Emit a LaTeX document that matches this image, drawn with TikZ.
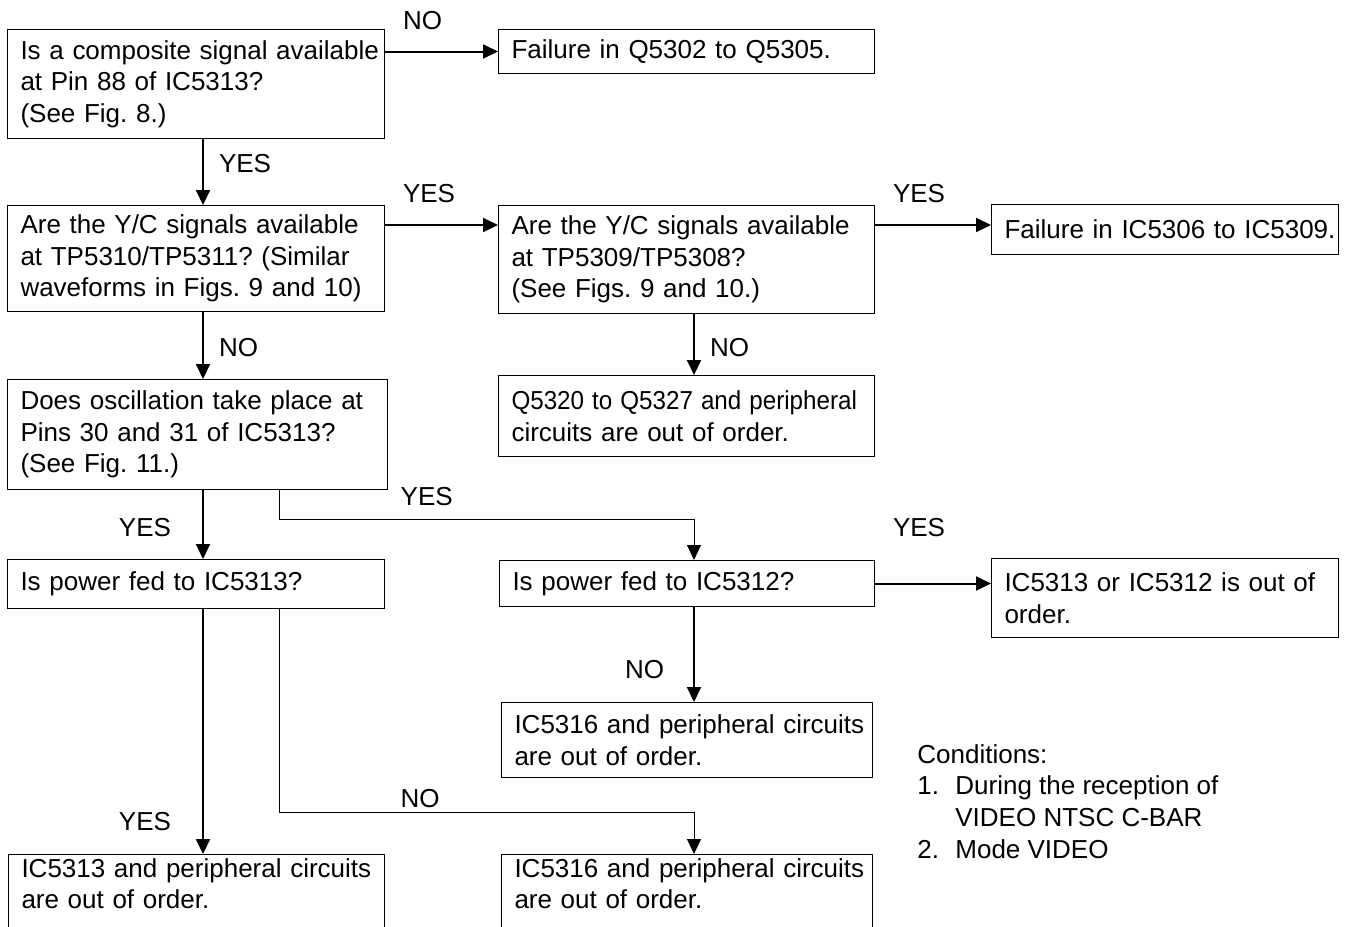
\documentclass[tikz,border=0pt]{standalone}
\usepackage{fontspec}
\setmainfont{Liberation Sans}
\usepackage{graphicx}
\usetikzlibrary{arrows.meta}
\frenchspacing
\tikzset{
  box/.style={draw,line width=0.5pt,anchor=north west,align=left,inner xsep=6.5pt,inner ysep=0pt,
    execute at begin node={\rightskip=-40pt plus 1fil}},
  lbl/.style={inner sep=0pt},
  hl/.style={lbl,pos=0,anchor=south west,xshift=8.5pt,yshift=10.5pt},
  vl/.style={lbl,anchor=west,xshift=7.5pt},
  vr/.style={lbl,anchor=east,xshift=-15.5pt},
  arr/.style={->,line width=1pt},
  thinarr/.style={->,line width=0.5pt}
}

\begin{document}
\begin{tikzpicture}[x=0.5pt,y=-0.5pt,>={Triangle[length=7.5pt,width=7pt]},font=\fontsize{13pt}{15.8pt}\selectfont]
    \useasboundingbox (0,0) rectangle (1351,927);

    % first column
    \node[box,text width=175.5pt,minimum height=54.5pt] (comp) at (7,29) {Is a composite signal available\\at Pin 88 of IC5313?\\(See Fig. 8.)};
    \node[box,text width=175.5pt,minimum height=53pt] (yc1) at (7,205) {Are the Y/C signals available\\at TP5310/TP5311? (Similar\\waveforms in Figs. 9 and 10)};
    \node[box,text width=177pt,minimum height=55pt] (osc) at (7,379) {Does oscillation take place at\\Pins 30 and 31 of IC5313?\\(See Fig. 11.)};
    \node[box,text width=175.5pt,minimum height=24.5pt] (pw13) at (7,559) {Is power fed to IC5313?};
    \node[box,text width=175pt,inner ysep=2pt,text depth=45pt] (ic13) at (8,854) {IC5313 and peripheral circuits\\are out of order.};

    % second column
    \node[box,text width=175pt,minimum height=22pt] (failq) at (498,29) {Failure in Q5302 to Q5305.};
    \node[box,text width=175pt,minimum height=54pt] (yc2) at (498,205) {Are the Y/C signals available\\at TP5309/TP5308?\\(See Figs. 9 and 10.)};
    \node[box,text width=175pt,minimum height=40.5pt] (qout) at (498,375) {\scalebox{0.93}[1]{Q5320 to Q5327 and peripheral}\\circuits are out of order.};
    \node[box,text width=174.5pt,minimum height=23pt] (pw12) at (499,560) {Is power fed to IC5312?};
    \node[box,text width=172.5pt,minimum height=37.5pt] (ic16a) at (501,702) {IC5316 and peripheral circuits\\are out of order.};
    \node[box,text width=172.5pt,inner ysep=2pt,text depth=45pt] (ic16b) at (501,854) {IC5316 and peripheral circuits\\are out of order.};

    % third column
    \node[box,text width=160.5pt,minimum height=25pt] (failic) at (991,204) {Failure in IC5306 to IC5309.};
    \node[box,text width=160.5pt,minimum height=39.5pt] (icout) at (991,558) {IC5313 or IC5312 is out of\\order.};

    \node[lbl,anchor=north west,align=left] (cond) at (917,744) {Conditions:\\\makebox[19pt][l]{1.}During the reception of\\\hspace*{19pt}VIDEO NTSC C-BAR\\\makebox[19pt][l]{2.}Mode VIDEO};

    \coordinate (c1) at (203,0);
    \coordinate (c2) at (694,0);
    \coordinate (e1) at (279,0);
    \coordinate (r2) at (0,225);

    \draw[arr] (comp.east |- failq) -- node[hl] {NO} (failq);
    \draw[arr] (comp.south -| c1) -- node[vl,pos=0.373] {YES} (yc1.north -| c1);
    \draw[arr] (yc1.east |- r2) -- node[hl] {YES} (yc2.west |- r2);
    \draw[arr] (yc2.east |- r2) -- node[hl] {YES} (failic.west |- r2);
    \draw[arr] (yc1.south -| c1) -- node[vl,pos=0.53] {NO} (osc.north -| c1);
    \draw[arr] (yc2.south -| c2) -- node[vl,pos=0.55] {NO} (qout.north -| c2);
    \draw[arr] (osc.south -| c1) -- node[vr,pos=0.543] {YES} (pw13.north -| c1);
    \draw[thinarr] (osc.south -| e1) -- ++(0,29) -| node[lbl,pos=0.146,anchor=south west,yshift=6.5pt] {YES} (pw12.north -| c2);
    \draw[arr] (pw12.east) -- node[hl,yshift=12.5pt] {YES} (pw12.east -| icout.west);
    \draw[arr] (pw12.south -| c2) -- node[vr,pos=0.656,xshift=1pt] {NO} (ic16a.north -| c2);
    \draw[arr] (pw13.south -| c1) -- node[vr,pos=0.866] {YES} (ic13.north -| c1);
    \draw[thinarr] (pw13.south -| e1) -- ++(0,203) -| node[lbl,pos=0.146,anchor=south west,yshift=2pt] {NO} (ic16b.north -| c2);
\end{tikzpicture}
\end{document}
